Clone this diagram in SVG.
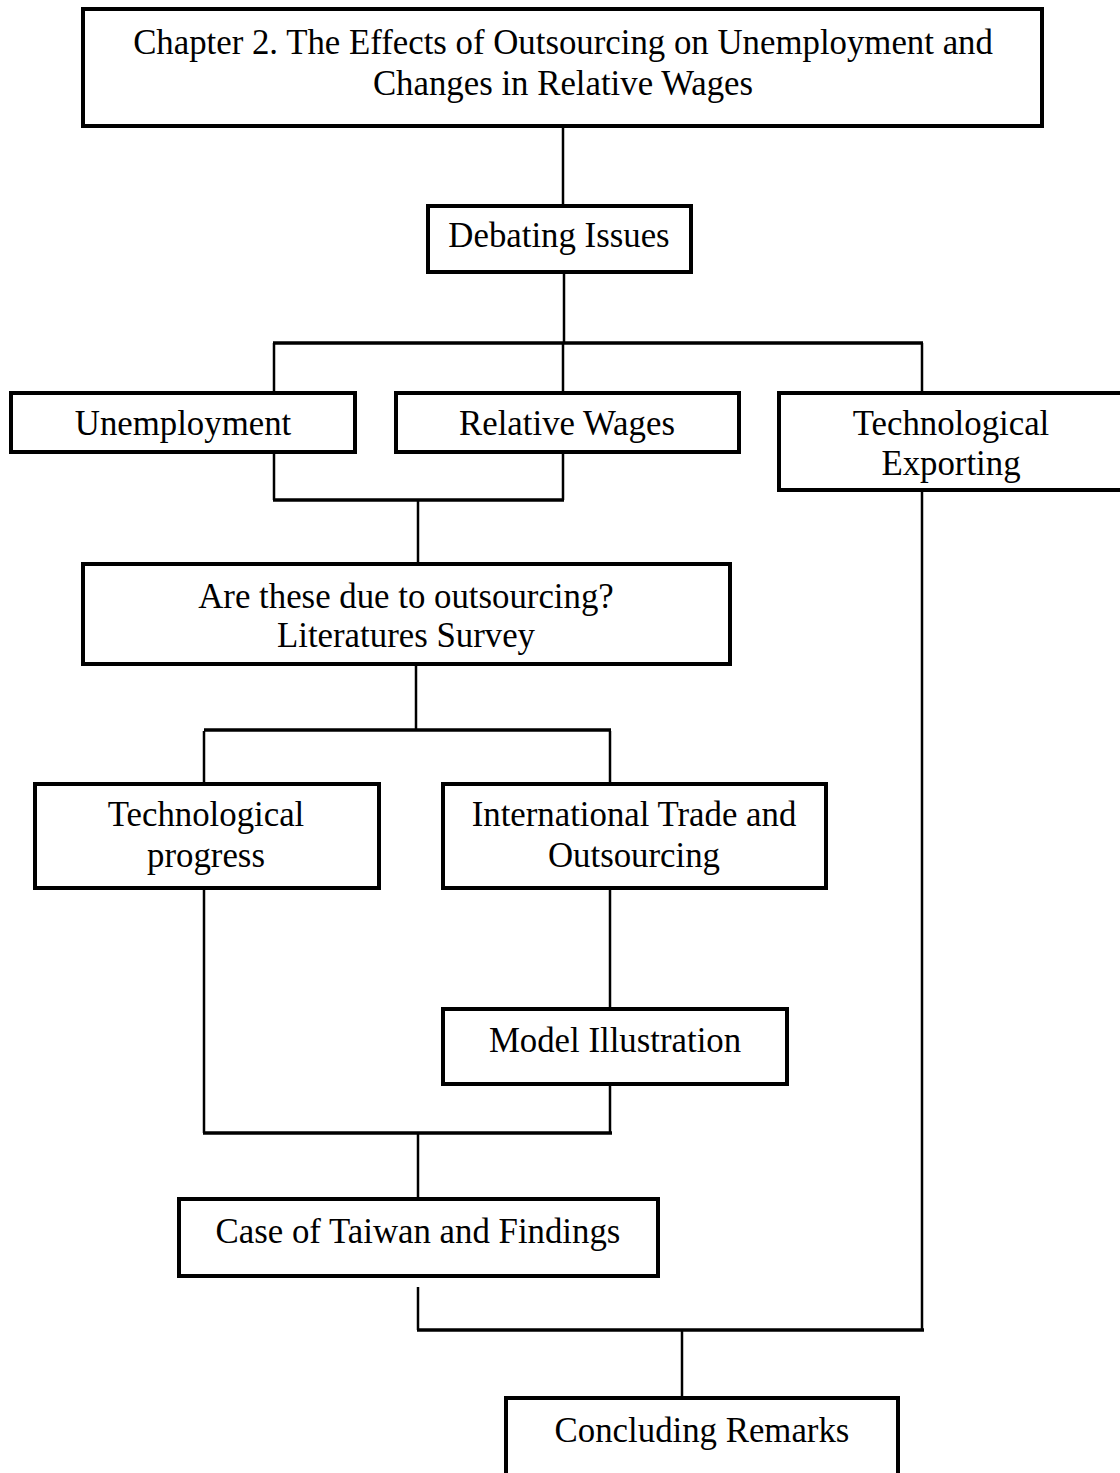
<svg xmlns="http://www.w3.org/2000/svg" width="1120" height="1473" viewBox="0 0 1120 1473">
<style>
.box{fill:#fff;stroke:#000;stroke-width:4}
.t{font-family:"Liberation Serif","Times New Roman",serif;font-size:34.8px;fill:#000;text-anchor:middle}
.c{fill:none;stroke:#000;stroke-width:2.5}
.h{fill:none;stroke:#000;stroke-width:3.5}
</style>
<rect width="1120" height="1473" fill="#fff"/>
<g id="connectors">
<path class="c" d="M563 127V205"/>
<path class="c" d="M564 273V343"/>
<path class="h" d="M273 343H923"/>
<path class="c" d="M274 343V392M563 343V392M922 343V392"/>
<path class="c" d="M274 453V500M563 453V500"/>
<path class="h" d="M273 500H564"/>
<path class="c" d="M418 500V563"/>
<path class="c" d="M416 665V731"/>
<path class="h" d="M204 730H611"/>
<path class="c" d="M204 731V783M610 731V783"/>
<path class="c" d="M610 889V1008"/>
<path class="c" d="M204 889V1133M610 1085V1133"/>
<path class="h" d="M203 1133H612"/>
<path class="c" d="M418 1133V1198"/>
<path class="c" d="M418 1287V1330"/>
<path class="h" d="M417 1330H924"/>
<path class="c" d="M922 491V1330"/>
<path class="c" d="M682 1330V1397"/>
</g>
<g id="n1"><rect class="box" x="83" y="9" width="959" height="117"/>
<text class="t" x="563" y="54">Chapter 2. The Effects of Outsourcing on Unemployment and</text>
<text class="t" x="563" y="95">Changes in Relative Wages</text></g>
<g id="n2"><rect class="box" x="428" y="206" width="263" height="66"/>
<text class="t" x="559" y="247">Debating Issues</text></g>
<g id="n3"><rect class="box" x="11" y="393" width="344" height="59"/>
<text class="t" x="183" y="435">Unemployment</text></g>
<g id="n4"><rect class="box" x="396" y="393" width="343" height="59"/>
<text class="t" x="567" y="435">Relative Wages</text></g>
<g id="n5"><rect class="box" x="779" y="393" width="345" height="97"/>
<text class="t" x="951" y="435">Technological</text>
<text class="t" x="951" y="475">Exporting</text></g>
<g id="n6"><rect class="box" x="83" y="564" width="647" height="100"/>
<text class="t" x="406" y="608">Are these due to outsourcing?</text>
<text class="t" x="406" y="647">Literatures Survey</text></g>
<g id="n7"><rect class="box" x="35" y="784" width="344" height="104"/>
<text class="t" x="206" y="826">Technological</text>
<text class="t" x="206" y="867">progress</text></g>
<g id="n8"><rect class="box" x="443" y="784" width="383" height="104"/>
<text class="t" x="634" y="826">International Trade and</text>
<text class="t" x="634" y="867">Outsourcing</text></g>
<g id="n9"><rect class="box" x="443" y="1009" width="344" height="75"/>
<text class="t" x="615" y="1052">Model Illustration</text></g>
<g id="n10"><rect class="box" x="179" y="1199" width="479" height="77"/>
<text class="t" x="418" y="1243">Case of Taiwan and Findings</text></g>
<g id="n11"><rect class="box" x="506" y="1398" width="392" height="90"/>
<text class="t" x="702" y="1442">Concluding Remarks</text></g>
</svg>
